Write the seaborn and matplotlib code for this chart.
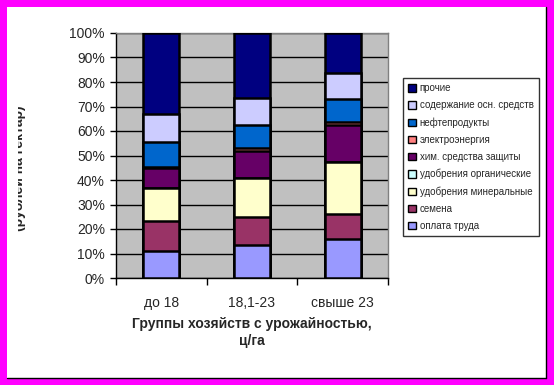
import numpy as np
import pandas as pd
import matplotlib.pyplot as plt
import seaborn as sns
from matplotlib.patches import Rectangle, Patch
from matplotlib.lines import Line2D
from matplotlib.transforms import Bbox

sns.set_style("white")
plt.rcParams['font.family'] = ['Liberation Sans', 'DejaVu Sans']

groups = ['до 18', '18,1-23', 'свыше 23']
items = ['оплата труда', 'семена', 'удобрения минеральные', 'удобрения органические',
         'хим. средства защиты', 'электроэнергия', 'нефтепродукты',
         'содержание осн. средств', 'прочие']
# структура затрат по группам, %
share_low = [11.2, 11.9, 13.6, 0.0, 8.2, 0.3, 10.3, 11.4, 33.1]
share_mid = [13.6, 11.2, 16.0, 0.0, 11.2, 1.1, 9.5, 10.9, 26.5]
share_high = [15.9, 10.4, 20.9, 0.2, 15.2, 0.9, 9.6, 10.6, 16.3]
colors = ['#9999FF', '#993366', '#FFFFCC', '#CCFFFF', '#660066',
          '#FF8080', '#0066CC', '#CCCCFF', '#000080']
ytick_labels = ['0%', '10%', '20%', '30%', '40%', '50%', '60%', '70%', '80%', '90%', '100%']

rows = []
for g, shares in zip(groups, [share_low, share_mid, share_high]):
    cum = np.cumsum(shares)
    for it, v, c in zip(items, shares, cum):
        rows.append({'group': g, 'item': it, 'share': v, 'cum': c})
df = pd.DataFrame(rows)

W, H = 554, 385
fig = plt.figure(figsize=(W / 100, H / 100), dpi=100, facecolor='#FF00FF')
# white inner panel with dark shadow line
fig.patches.append(Rectangle((7 / W, 7 / H), 539 / W, 371 / H, transform=fig.transFigure,
                             facecolor='white', edgecolor='none', zorder=-10))
fig.lines.append(Line2D([545.5 / W, 545.5 / W], [7 / H, 378 / H], transform=fig.transFigure,
                        color='black', lw=1))
fig.lines.append(Line2D([7 / W, 546 / W], [7.5 / H, 7.5 / H], transform=fig.transFigure,
                        color='black', lw=1))

ax = fig.add_axes([116 / W, 1 - 278 / H, 272 / W, 245 / H])
ax.set_facecolor('#C0C0C0')

# stacked bars drawn as overlapping cumulative totals, top layer first
for it, c in reversed(list(zip(items, colors))):
    sub = df[df['item'] == it]
    sns.barplot(data=sub, x='group', y='cum', order=groups, color=c, width=0.4,
                edgecolor='black', linewidth=1.8, saturation=1, ax=ax, zorder=3)

ax.set_xlim(-0.5, 2.5)
ax.set_ylim(0, 100)
ax.set_yticks(np.arange(0, 101, 10))
ax.set_yticklabels(ytick_labels, fontsize=10)
ax.yaxis.grid(True, color='black', lw=1, zorder=1)
ax.set_axisbelow(True)
ax.tick_params(axis='y', direction='out', length=4, width=1, color='black', pad=4, left=True)
ax.set_xticks([0, 1, 2])
ax.set_xticklabels(groups, fontsize=10)
ax.set_xticks([-0.5, 0.5, 1.5, 2.5], minor=True)
ax.tick_params(axis='x', which='major', length=0, pad=13)
ax.tick_params(axis='x', which='minor', direction='out', length=5, width=1, color='black', bottom=True)
for side in ['left', 'bottom']:
    ax.spines[side].set_color('black')
    ax.spines[side].set_linewidth(1)
for side in ['top', 'right']:
    ax.spines[side].set_color('#808080')
    ax.spines[side].set_linewidth(1)
ax.set_ylabel('')
ax.set_xlabel('Группы хозяйств с урожайностью,\nц/га', fontsize=10, fontweight='bold',
              labelpad=5, linespacing=1.3)

handles = [Patch(facecolor=c, edgecolor='black', lw=1, label=it)
           for it, c in reversed(list(zip(items, colors)))]
leg = fig.legend(handles=handles, loc='upper left', bbox_to_anchor=(403 / W, 1 - 78 / H),
                 bbox_transform=fig.transFigure, fontsize=7, frameon=True, fancybox=False,
                 edgecolor='black', borderaxespad=0, handlelength=0.8, handleheight=0.8,
                 handletextpad=0.35, labelspacing=0.72, borderpad=0.55)
leg.get_frame().set_linewidth(1)

# y axis title, partially cut off at the panel edge
t = fig.text(19 / W, 1 - 168 / H, '(рублей на гектар)', rotation=90, ha='center', va='center',
             fontsize=10, fontweight='bold')
t.set_clip_on(True)
t.set_clip_box(Bbox.from_extents(18, 0, W, H))

fig.savefig('out.png', dpi=100, facecolor=fig.get_facecolor())
